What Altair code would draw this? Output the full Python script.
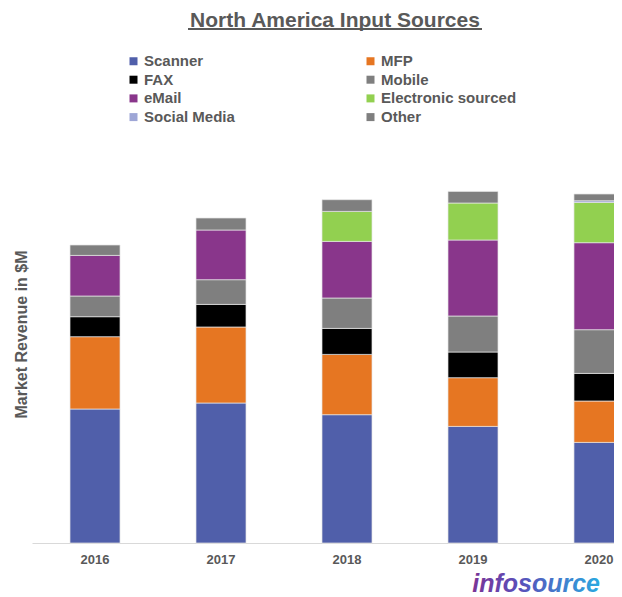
import altair as alt
import pandas as pd

years = ["2016", "2017", "2018", "2019", "2020"]
sources = ["Scanner", "MFP", "FAX", "Mobile", "eMail", "Electronic sourced", "Social Media", "Other"]
colors = ["#505FAA", "#E67622", "#000000", "#7F7F7F", "#89368B", "#92D050", "#9EA6D6", "#7F7F7F"]

# Market revenue ($M, estimated) per source, per year 2016..2020
scanner    = [134.0, 140.0, 128.3, 116.6, 100.6]
mfp        = [72.3, 76.0, 60.3, 48.7, 41.4]
fax        = [20.0, 22.6, 26.0, 25.7, 27.6]
mobile     = [20.7, 24.7, 30.4, 36.0, 43.7]
email      = [40.6, 49.7, 56.6, 76.0, 87.0]
electronic = [0.0, 0.0, 30.0, 37.0, 40.3]
social     = [0.0, 0.0, 0.0, 0.0, 1.7]
other      = [10.4, 12.0, 11.7, 11.6, 6.7]

series = [scanner, mfp, fax, mobile, email, electronic, social, other]
rows = []
for i, (name, vals) in enumerate(zip(sources, series)):
    for y, v in zip(years, vals):
        rows.append({"Year": y, "Source": name, "Revenue": v, "idx": i})
df = pd.DataFrame(rows)

FONT = "Liberation Sans"
GRAY = "#595959"

bars = alt.Chart(df).transform_filter("datum.Revenue > 0").mark_bar(
    stroke="#e6e6e6", strokeWidth=0.7
).encode(
    x=alt.X("Year:N", scale=alt.Scale(range=[0, 630], paddingInner=0.603, paddingOuter=0.3016),
            axis=alt.Axis(title=None, labelAngle=0, ticks=False, tickSize=0, domainColor="#d9d9d9",
                          labelFont=FONT, labelFontSize=13, labelFontWeight="bold",
                          labelColor=GRAY, labelPadding=10, grid=False)),
    y=alt.Y("Revenue:Q", stack="zero", scale=alt.Scale(domain=[0, 418], nice=False),
            axis=alt.Axis(title="Market Revenue in $M", labels=False, ticks=False, domain=False,
                          grid=False, titleFont=FONT, titleFontSize=16, titleFontWeight="bold",
                          titleColor=GRAY, titlePadding=3)),
    color=alt.Color("Source:N", scale=alt.Scale(domain=sources, range=colors),
                    legend=alt.Legend(title=None, orient="none", legendX=94, legendY=-71.5,
                                      direction="horizontal",
                                      columns=2, columnPadding=128, rowPadding=2.7, padding=0,
                                      symbolType="square", symbolSize=64, symbolStrokeWidth=0,
                                      labelFont=FONT, labelFontSize=15, labelFontWeight="bold",
                                      labelColor=GRAY, labelOffset=3, labelLimit=300)),
    order=alt.Order("idx:Q", sort="ascending"),
)

logo_df = pd.DataFrame({"t": ["infosource"]})
logo = alt.Chart(logo_df).mark_text(
    align="right", baseline="alphabetic", font=FONT, fontSize=25, fontWeight="bold",
    fontStyle="italic",
    color={"gradient": "linear", "x1": 0, "x2": 1, "y1": 0, "y2": 0,
           "stops": [{"offset": 0, "color": "#7A3596"}, {"offset": 0.35, "color": "#5B4DB8"},
                     {"offset": 1, "color": "#2AA9E0"}]},
).encode(x=alt.value(568), y=alt.value(467), text="t:N")

underline = alt.Chart(logo_df).mark_rule(color=GRAY, strokeWidth=2).encode(
    x=alt.value(156), x2=alt.value(450), y=alt.value(-96)
)

chart = alt.layer(bars, logo, underline).properties(
    width=582, height=418,
    title=alt.TitleParams("North America Input Sources", font=FONT, fontSize=21,
                          fontWeight="bold", color=GRAY, anchor="middle", dx=12, dy=7),
    autosize=alt.AutoSizeParams(type="none"),
    padding={"left": 24, "top": 117, "right": 0, "bottom": 54},
).configure_view(stroke=None)

chart.save("out.html", embed_options={"renderer": "svg", "actions": False})
